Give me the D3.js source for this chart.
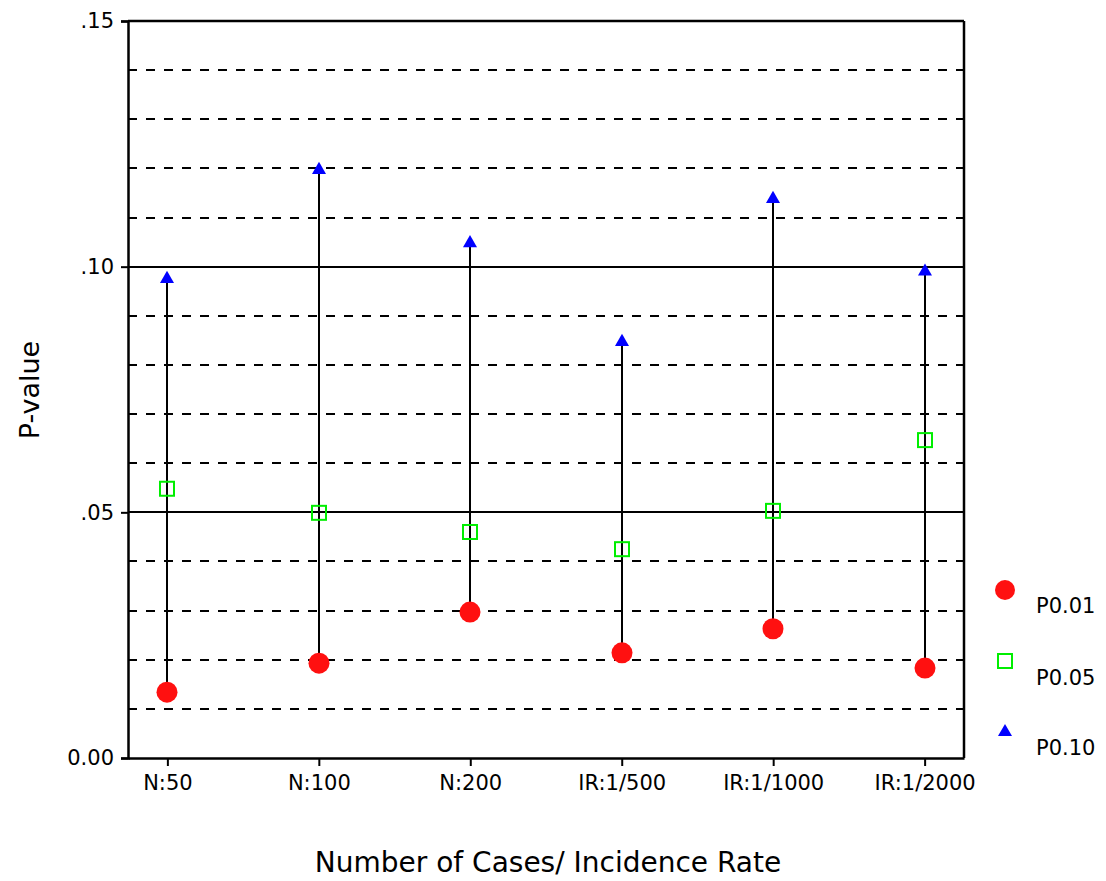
<!DOCTYPE html>
<html><head><meta charset="utf-8">
<script src="https://cdn.jsdelivr.net/npm/d3@7"></script>
<style>body{margin:0;background:#fff}text{font-family:"DejaVu Sans",sans-serif;fill:#000}</style>
</head><body>
<svg id="c" width="1106" height="881"></svg>
<script>
const categories = ["N:50","N:100","N:200","IR:1/500","IR:1/1000","IR:1/2000"];
const p001 = [0.0134,0.0193,0.0297,0.0214,0.0263,0.0183];
const p005 = [0.0548,0.0499,0.0460,0.0425,0.0503,0.0647];
const p010 = [0.0975,0.1197,0.1048,0.0847,0.1138,0.0990];
const yTicks = [0,0.05,0.10,0.15];
const yTickLabels = ["0.00",".05",".10",".15"];
const gridVals = d3.range(1,15).map(v=>v/100);
const legendLabels = ["P0.01","P0.05","P0.10"];

const L=128,R=964,T=21,B=758;
const svg=d3.select("#c");
const x=d3.scalePoint().domain(categories).range([L,R]).padding(0.26);
const y=d3.scaleLinear().domain([0,0.15]).range([B,T]);
const xr=d=>Math.round(x(d));

// gridlines
svg.append("g").selectAll("line").data(gridVals).join("line")
  .attr("x1",L).attr("x2",R).attr("y1",d=>Math.round(y(d))).attr("y2",d=>Math.round(y(d)))
  .attr("stroke","#000").attr("stroke-width",2)
  .attr("stroke-dasharray",d=>(Math.round(d*100)%5===0)?null:"9,9");
// frame
svg.append("line").attr("x1",L).attr("x2",R).attr("y1",T).attr("y2",T).attr("stroke","#000").attr("stroke-width",2.5);
svg.append("line").attr("x1",R).attr("x2",R).attr("y1",T).attr("y2",B).attr("stroke","#000").attr("stroke-width",2.5);

// y axis
const ya=svg.append("g").attr("transform",`translate(${L},0)`)
  .call(d3.axisLeft(y).tickValues(yTicks).tickFormat((d,i)=>yTickLabels[i]).tickSize(7).tickPadding(7));
ya.attr("font-size",null).attr("font-family",null);
ya.select(".domain").attr("stroke-width",2.5);
ya.selectAll(".tick line").attr("stroke-width",2);
ya.selectAll("text").style("font-size","21px");
// x axis
const xa=svg.append("g").attr("transform",`translate(0,${B})`)
  .call(d3.axisBottom(x).tickSize(8).tickPadding(9).tickSizeOuter(0));
xa.attr("font-size",null).attr("font-family",null);
xa.select(".domain").attr("stroke-width",2.5);
xa.selectAll(".tick line").attr("stroke-width",2);
xa.selectAll("text").style("font-size","21px");

// high-low lines
svg.append("g").selectAll("line").data(categories).join("line")
  .attr("x1",xr).attr("x2",xr)
  .attr("y1",(d,i)=>y(Math.min(p001[i],p005[i],p010[i])))
  .attr("y2",(d,i)=>y(Math.max(p001[i],p005[i],p010[i])))
  .attr("stroke","#000").attr("stroke-width",2);

const tri=d3.symbol().type(d3.symbolTriangle).size(85);
// markers
svg.append("g").selectAll("circle").data(categories).join("circle")
  .attr("cx",xr).attr("cy",(d,i)=>y(p001[i])).attr("r",10.5).attr("fill","#ff1010");
svg.append("g").selectAll("rect").data(categories).join("rect")
  .attr("x",d=>xr(d)-7).attr("y",(d,i)=>y(p005[i])-7).attr("width",14).attr("height",14)
  .attr("fill","none").attr("stroke","#00ee00").attr("stroke-width",2);
svg.append("g").selectAll("path").data(categories).join("path")
  .attr("d",tri).attr("transform",(d,i)=>`translate(${xr(d)},${y(p010[i])})`).attr("fill","#0000ff");

// legend
const lg=svg.append("g");
lg.append("circle").attr("cx",1005).attr("cy",590).attr("r",10).attr("fill","#ff1010");
lg.append("rect").attr("x",998).attr("y",654).attr("width",14).attr("height",14).attr("fill","none").attr("stroke","#00ee00").attr("stroke-width",2);
lg.append("path").attr("d",tri).attr("transform","translate(1005,732)").attr("fill","#0000ff");
[613,685,755].forEach((yy,i)=>lg.append("text").attr("x",1036).attr("y",yy).style("font-size","21px").text(legendLabels[i]));

// titles
svg.append("text").attr("transform","translate(39,390) rotate(-90)").attr("text-anchor","middle").style("font-size","27px").text("P-value");
svg.append("text").attr("x",548).attr("y",872).attr("text-anchor","middle").style("font-size","28px").text("Number of Cases/ Incidence Rate");
</script>
</body></html>
